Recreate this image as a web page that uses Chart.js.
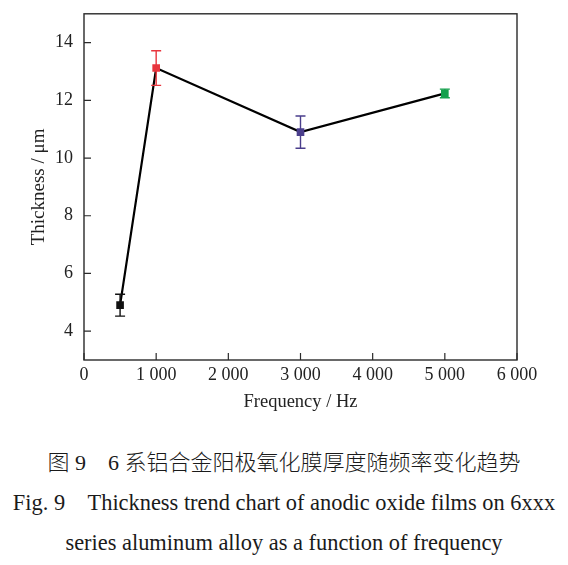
<!DOCTYPE html>
<html>
<head>
<meta charset="utf-8">
<script src="https://cdn.jsdelivr.net/npm/chart.js@4.4.0/dist/chart.umd.min.js"></script>
<style>
  html, body { margin: 0; padding: 0; background: #fff; }
  #wrap { position: relative; width: 568px; height: 565px; overflow: hidden; }
  #plot { position: absolute; left: 0; top: 0; width: 568px; height: 430px; }
  .cap { position: absolute; left: 0; width: 568px; text-align: center; color: #1a1a1a;
         line-height: 40px; height: 40px; white-space: nowrap; font-size: 22.4px;
         font-family: "Liberation Serif", "Noto Sans CJK SC", serif; }
  .cn { font-size: 22px; font-weight: 300; }
</style>
</head>
<body>
<div id="wrap">
  <div id="plot"><canvas id="chart"></canvas></div>
  <div class="cap cn" style="top:443px">图 9&emsp;6 系铝合金阳极氧化膜厚度随频率变化趋势</div>
  <div class="cap" style="top:483px">Fig. 9&emsp;Thickness trend chart of anodic oxide films on 6xxx</div>
  <div class="cap" style="top:523px">series aluminum alloy as a function of frequency</div>
</div>
<script>
// values
const frequency = [500, 1000, 3000, 5000];
const thickness = [4.9, 13.12, 10.9, 12.24];
const thicknessErr = [0.38, 0.6, 0.56, 0.15];
const pointColors = ["#111111", "#e8353d", "#4a3e8c", "#14a04c"];

const xTickValues = [0, 1000, 2000, 3000, 4000, 5000, 6000];
const xTickLabels = ["0", "1 000", "2 000", "3 000", "4 000", "5 000", "6 000"];
const yTickValues = [4, 6, 8, 10, 12, 14];
const yTickLabels = ["4", "6", "8", "10", "12", "14"];

const FONT = "'Liberation Serif', 'Times New Roman', serif";
const INK = "#2a2a2a";

// frame + inward ticks
const framePlugin = {
  id: "frame",
  afterDraw(chart) {
    const { ctx, chartArea: a, scales } = chart;
    ctx.save();
    ctx.strokeStyle = INK;
    ctx.lineWidth = 1.4;
    ctx.strokeRect(a.left, a.top, a.right - a.left, a.bottom - a.top);
    ctx.lineWidth = 1.2;
    ctx.beginPath();
    xTickValues.forEach(v => {
      const x = scales.x.getPixelForValue(v);
      ctx.moveTo(x, a.bottom); ctx.lineTo(x, a.bottom - 7);
    });
    yTickValues.forEach(v => {
      const y = scales.y.getPixelForValue(v);
      ctx.moveTo(a.left, y); ctx.lineTo(a.left + 7, y);
    });
    ctx.stroke();
    ctx.restore();
  }
};

// vertical error bars with caps
const errorBarPlugin = {
  id: "errbars",
  afterDatasetsDraw(chart) {
    const { ctx, scales } = chart;
    ctx.save();
    ctx.lineWidth = 1.4;
    frequency.forEach((f, i) => {
      const x = scales.x.getPixelForValue(f);
      const yHi = scales.y.getPixelForValue(thickness[i] + thicknessErr[i]);
      const yLo = scales.y.getPixelForValue(thickness[i] - thicknessErr[i]);
      ctx.strokeStyle = pointColors[i];
      ctx.beginPath();
      ctx.moveTo(x, yHi); ctx.lineTo(x, yLo);
      ctx.moveTo(x - 5, yHi); ctx.lineTo(x + 5, yHi);
      ctx.moveTo(x - 5, yLo); ctx.lineTo(x + 5, yLo);
      ctx.stroke();
    });
    ctx.restore();
  }
};

new Chart(document.getElementById("chart"), {
  type: "scatter",
  data: {
    datasets: [{
      data: frequency.map((f, i) => ({ x: f, y: thickness[i] })),
      showLine: true,
      borderColor: "#000",
      borderWidth: 2.2,
      pointStyle: "rect",
      pointRadius: 5.4,
      pointBorderWidth: 0,
      pointBackgroundColor: pointColors,
      pointBorderColor: pointColors
    }]
  },
  options: {
    responsive: true,
    maintainAspectRatio: false,
    animation: false,
    layout: { padding: { top: 10, right: 51, left: 0, bottom: 0 } },
    plugins: { legend: { display: false }, tooltip: { enabled: false } },
    scales: {
      x: {
        type: "linear", min: 0, max: 6000,
        grid: { display: false }, border: { display: false },
        afterBuildTicks: (s) => { s.ticks = xTickValues.map(v => ({ value: v })); },
        afterFit: (s) => { s.height = 70; },
        ticks: {
          padding: -4, color: "#222", maxRotation: 0, autoSkip: false,
          font: { family: FONT, size: 18 },
          callback: (v) => xTickLabels[xTickValues.indexOf(v)]
        },
        title: { display: true, text: "Frequency / Hz", color: "#222",
                 font: { family: FONT, size: 18.5 }, padding: { top: 0, bottom: 17 } }
      },
      y: {
        type: "linear", min: 3, max: 15,
        grid: { display: false }, border: { display: false },
        afterBuildTicks: (s) => { s.ticks = yTickValues.map(v => ({ value: v })); },
        afterFit: (s) => { s.width = 84; },
        ticks: {
          padding: 3, color: "#222", autoSkip: false,
          font: { family: FONT, size: 18 },
          callback: (v) => yTickLabels[yTickValues.indexOf(v)]
        },
        title: { display: true, text: "Thickness / μm", color: "#222",
                 font: { family: FONT, size: 19 }, padding: { top: 28, bottom: 0 } }
      }
    }
  },
  plugins: [framePlugin, errorBarPlugin]
});
</script>
</body>
</html>
